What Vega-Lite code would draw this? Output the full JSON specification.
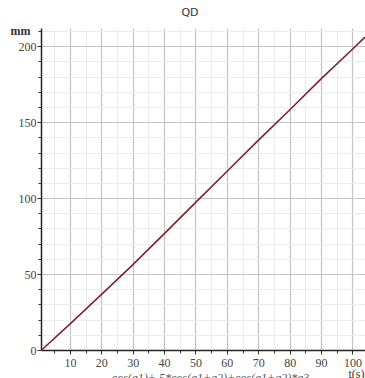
{
  "$schema": "https://vega.github.io/schema/vega-lite/v6.json",
  "width": 324,
  "height": 322,
  "autosize": "none",
  "padding": {"left": 41, "top": 28, "right": 0, "bottom": 28},
  "background": "white",
  "title": {"text": "QD", "fontSize": 11, "font": "DejaVu Sans", "fontWeight": "normal", "color": "#333333", "offset": 6, "anchor": "middle", "dx": -13},
  "data": {"values": [
    {"t": 1, "mm": 0},
    {"t": 10, "mm": 17},
    {"t": 20, "mm": 36.5},
    {"t": 30, "mm": 56},
    {"t": 40, "mm": 76.5},
    {"t": 50, "mm": 97},
    {"t": 60, "mm": 117.5},
    {"t": 70, "mm": 138},
    {"t": 80, "mm": 158},
    {"t": 90, "mm": 178.5},
    {"t": 100, "mm": 198},
    {"t": 104, "mm": 206}
  ]},
  "config": {
    "view": {"stroke": null},
    "axis": {"labelFont": "Liberation Serif", "labelFontSize": 12, "labelColor": "#444444", "titleFont": "Liberation Serif", "titleFontWeight": "normal", "titleColor": "#333333"}
  },
  "layer": [
    {
      "mark": {"type": "line", "opacity": 0},
      "encoding": {
        "x": {"field": "t", "type": "quantitative", "scale": {"domain": [0.8, 104], "nice": false, "zero": false},
          "axis": {"orient": "bottom", "values": [5,10,15,20,25,30,35,40,45,50,55,60,65,70,75,80,85,90,95,100], "labels": false, "grid": true, "gridColor": "#ebebeb", "gridWidth": 1, "ticks": true, "tickSize": 3, "tickColor": "#333333", "domain": false,
            "title": "cos(q1)+.5*cos(q1+q2)+cos(q1+q2)*q3", "titleFontStyle": "italic", "titleFontSize": 12, "titleColor": "#555555", "titleX": 169, "titleY": 31, "titleAlign": "center", "titleBaseline": "alphabetic"}},
        "y": {"field": "mm", "type": "quantitative", "scale": {"domain": [0, 212], "nice": false},
          "axis": {"orient": "left", "values": [10,20,30,40,60,70,80,90,110,120,130,140,160,170,180,190,210], "labels": false, "grid": true, "gridColor": "#ebebeb", "gridWidth": 1, "ticks": true, "tickSize": 3, "tickColor": "#333333", "domain": false, "title": null}}
      }
    },
    {
      "mark": {"type": "line", "color": "#7b2430", "strokeWidth": 1.6},
      "encoding": {
        "x": {"field": "t", "type": "quantitative", "scale": {"domain": [0.8, 104], "nice": false, "zero": false},
          "axis": {"orient": "bottom", "values": [10,20,30,40,50,60,70,80,90,100], "grid": true, "gridColor": "#c4c4c4", "gridWidth": 1.2, "ticks": true, "tickSize": 4, "tickColor": "#333333", "labelPadding": 3, "domain": true, "domainColor": "#222222", "domainWidth": 1.5,
            "title": "t(s)", "titleFontSize": 12, "titleX": 323, "titleY": 27, "titleAlign": "right", "titleBaseline": "alphabetic"}},
        "y": {"field": "mm", "type": "quantitative", "scale": {"domain": [0, 212], "nice": false},
          "axis": {"orient": "left", "values": [0,50,100,150,200], "grid": true, "gridColor": "#c4c4c4", "gridWidth": 1.2, "ticks": true, "tickSize": 4, "tickColor": "#333333", "labelPadding": 1, "domain": true, "domainColor": "#222222", "domainWidth": 1.5,
            "title": "mm", "titleFontSize": 12, "titleFontWeight": "bold", "titleAngle": 0, "titleX": -21, "titleY": 6, "titleAlign": "center", "titleBaseline": "alphabetic"}}
      }
    }
  ],
  "resolve": {"axis": {"x": "independent", "y": "independent"}}
}
